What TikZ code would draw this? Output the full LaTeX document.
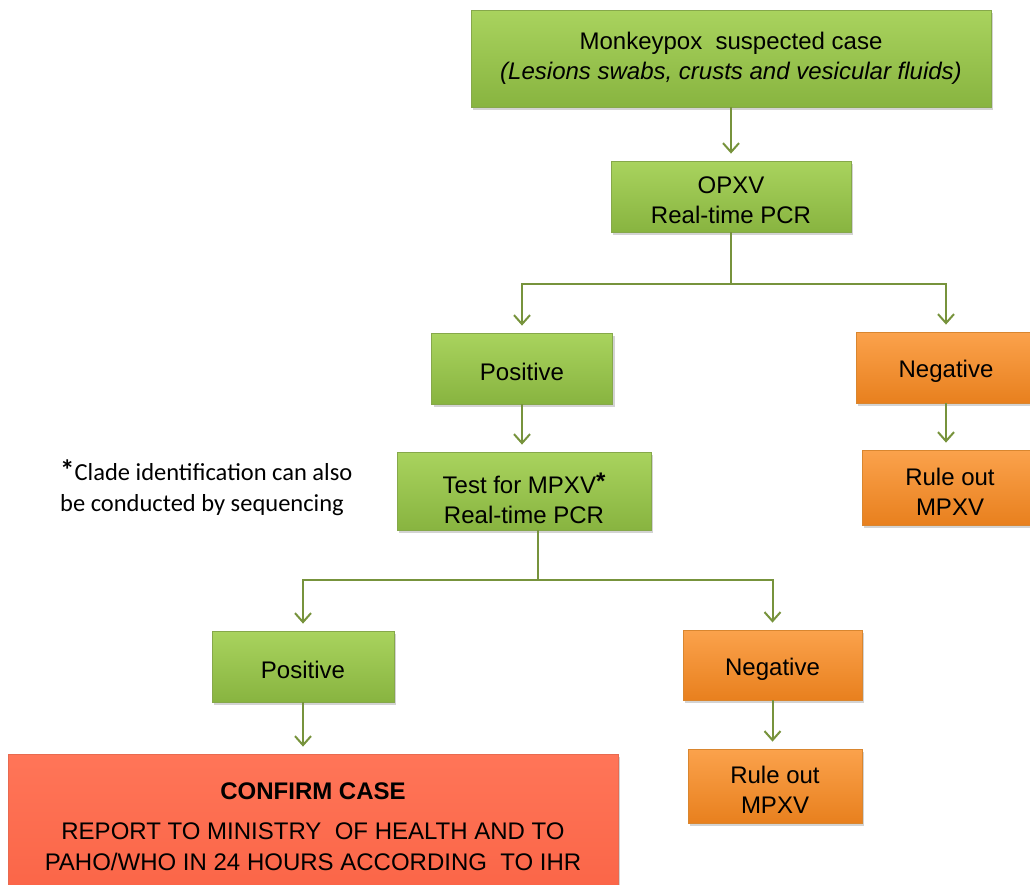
\documentclass[tikz,border=0pt]{standalone}
\usepackage{fontspec}
\setmainfont{Liberation Sans}
\newfontfamily\notefont{Carlito}
\usetikzlibrary{arrows.meta,shadows,calc}
\definecolor{gtop}{HTML}{A9D35E}
\definecolor{gbot}{HTML}{88B440}
\definecolor{gedge}{HTML}{86A84A}
\definecolor{otop}{HTML}{FBA24C}
\definecolor{obot}{HTML}{E8801E}
\definecolor{oedge}{HTML}{D9862F}
\definecolor{rtop}{HTML}{FF7558}
\definecolor{rbot}{HTML}{FA6446}
\definecolor{redge}{HTML}{E86A50}
\definecolor{lnc}{HTML}{77933C}
\tikzset{
  box/.style={rectangle, inner sep=0pt, line width=0.8pt,
    drop shadow={opacity=0.35, shadow xshift=2pt, shadow yshift=-3pt}},
  txt/.style={align=center, inner sep=0pt, yshift=-4pt, font=\fontsize{24}{30}\selectfont},
  gbox/.style={box, draw=gedge, top color=gtop, bottom color=gbot},
  obox/.style={box, draw=oedge, top color=otop, bottom color=obot},
  rbox/.style={box, draw=redge, top color=rtop, bottom color=rbot},
  conn/.style={draw=lnc, line width=2pt},
  arr/.style={conn, -{Straight Barb[length=9pt,width=16pt,line width=2pt]}, shorten >=7pt}
}
\begin{document}
\begin{tikzpicture}[x=1pt,y=-1pt]
\useasboundingbox (0,0) rectangle (1030,884);
% nodes
\node[gbox, minimum width=520pt, minimum height=97pt,
  label={[txt, yshift=4.5pt]center:{Monkeypox\ \ suspected case\\\textit{(Lesions swabs, crusts and vesicular fluids)}}}] (top) at (731,58.5) {};
\node[gbox, minimum width=240pt, minimum height=71pt,
  label={[txt]center:{OPXV\\Real-time PCR}}] (opxv) at (731,196.5) {};
\node[gbox, minimum width=181pt, minimum height=71pt,
  label={[txt, yshift=1pt]center:{Positive}}] (pos1) at (522,368.5) {};
\node[obox, minimum width=180pt, minimum height=71pt,
  label={[txt]center:{Negative}}] (neg1) at (946,367.5) {};
\node[obox, minimum width=176pt, minimum height=75pt,
  label={[txt]center:{Rule out\\MPXV}}] (rule1) at (950,487.5) {};
\node[gbox, minimum width=254pt, minimum height=78pt,
  label={[txt, yshift=-3pt]center:{Test for MPXV\raisebox{4pt}{\textbf{*}}\\Real-time PCR}}] (test) at (524,491) {};
\node[gbox, minimum width=182pt, minimum height=71pt,
  label={[txt, yshift=1pt]center:{Positive}}] (pos2) at (303,666.5) {};
\node[obox, minimum width=179pt, minimum height=70pt,
  label={[txt]center:{Negative}}] (neg2) at (772.5,665) {};
\node[obox, minimum width=174pt, minimum height=74pt,
  label={[txt]center:{Rule out\\MPXV}}] (rule2) at (775,786) {};
\node[rbox, minimum width=610pt, minimum height=150pt] (conf) at (313,829) {};
\node[font=\fontsize{24}{30}\selectfont\bfseries] (conft) at (313,791) {CONFIRM CASE};
\node[font=\fontsize{24}{31}\selectfont, align=center] (confr) at (313,847)
  {REPORT TO MINISTRY\ \ OF HEALTH AND TO\\PAHO/WHO IN 24 HOURS ACCORDING\ \ TO IHR};
\node[font=\notefont\fontsize{24.5}{31}\selectfont, align=left, anchor=north west, inner sep=0pt] (note) at (60,460)
  {{\fontsize{29}{31}\selectfont\textbf{*}}Clade identification can also\\be conducted by sequencing};
% connectors
\coordinate (b1) at (731,284);
\coordinate (b2) at (538,580);
\draw[arr] (top.south) -- (opxv.north);
\draw[conn] (opxv.south) -- (b1);
\draw[arr] (b1) -| (pos1.north);
\draw[arr] (b1) -| (neg1.north);
\draw[arr] (pos1.south) -- (pos1.south |- test.north);
\draw[arr] (neg1.south) -- (neg1.south |- rule1.north);
\draw[conn] (b2 |- test.south) -- (b2);
\draw[arr] (b2) -| (pos2.north);
\draw[arr] (b2) -| (neg2.north);
\draw[arr] (pos2.south) -- (conf.north -| pos2.south);
\draw[arr] (neg2.south) -- (neg2.south |- rule2.north);
\end{tikzpicture}
\end{document}
